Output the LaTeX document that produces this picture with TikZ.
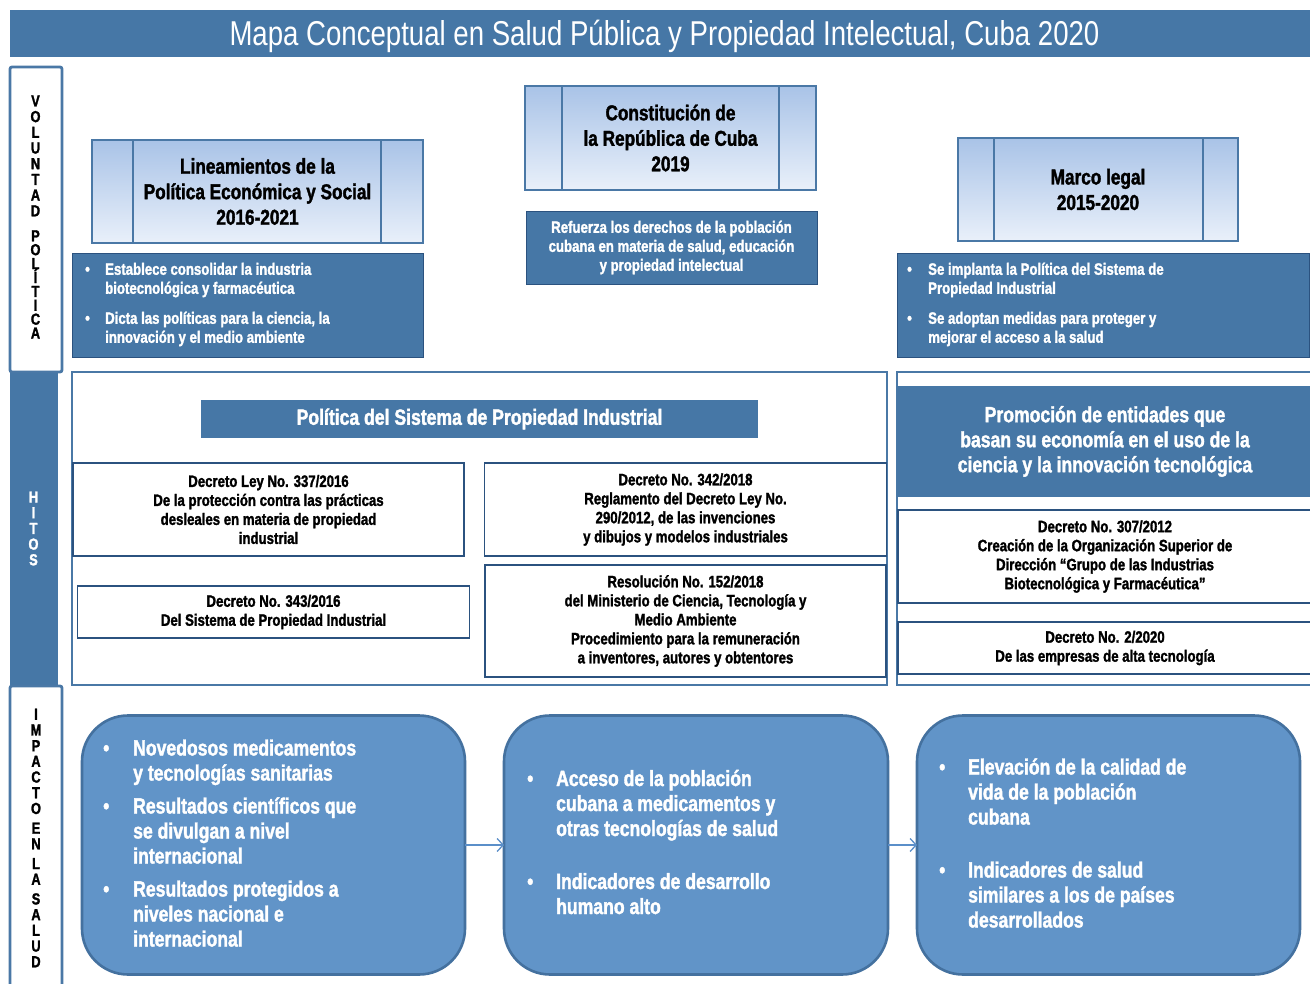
\documentclass[tikz,border=0pt]{standalone}
\usepackage{fontspec}
\setmainfont[FakeStretch=0.8]{Liberation Sans}
\newfontfamily\bsans[FakeStretch=0.8,FakeBold=1.6]{Liberation Sans Bold}
\usetikzlibrary{arrows.meta}
\definecolor{band}{HTML}{4677A6}
\definecolor{frame}{HTML}{4A78A6}
\definecolor{dark}{HTML}{2B527F}
\definecolor{lightA}{HTML}{A9C3E7}
\definecolor{lightB}{HTML}{E9F0FA}
\definecolor{impf}{HTML}{6194C8}
\definecolor{impd}{HTML}{44719F}
\definecolor{arr}{HTML}{5B8FC9}
\newcommand{\fs}[2]{\fontsize{#1}{#2}\selectfont}
\begin{document}
\begin{tikzpicture}[x=1pt,y=-1pt,
 box/.style={rectangle, inner sep=0pt, outer sep=0pt},
 hdr/.style={box, draw=frame, line width=2.6pt, top color=lightA, bottom color=lightB, font={\bsans\fs{21.5}{25.5}}, align=center},
 bluebox/.style={box, fill=band, draw=dark, line width=0.8pt, text=white, font={\bsans\fs{16.5}{19}}, align=center},
 btext/.style={inner sep=0pt, text=white, font={\bsans\fs{16.5}{19}}},
 decbox/.style={box, draw=dark, line width=1.1pt, fill=white, font={\bsans\fs{16.5}{19}}, align=center},
 bigframe/.style={box, draw=frame, line width=2.6pt},
 impbox/.style={box, rounded corners=46pt, fill=impf, draw=impd, line width=2.6pt},
 itext/.style={inner sep=0pt, text=white, font={\bsans\fs{22}{25}}},
 vlet/.style={inner sep=0pt, align=center, font={\bsans\fs{16}{15.7}\lineskiplimit=-20pt}},
 link/.style={draw=arr, line width=1.3pt, -{Straight Barb[length=6pt,width=13pt,line width=1.3pt]}}
]
\useasboundingbox (0,0) rectangle (1310,984);
\fill[white] (0,0) rectangle (1310,984);

% title
\node[box, fill=band, minimum width=1300pt, minimum height=47pt] (title) at (660,33.5) {};
\node[inner sep=0pt, text=white, font={\fs{34.5}{40}}] (titletext) at (664.5,36.5) {Mapa Conceptual en Salud Pública y Propiedad Intelectual, Cuba 2020};

% left column
\node[box, draw=frame, fill=white, line width=2.8pt, rounded corners=2pt, minimum width=52pt, minimum height=305pt] (colvol) at (36,219.5) {};
\node[box, fill=band, minimum width=48pt, minimum height=312pt] (colhit) at (34,529) {};
\node[box, draw=frame, fill=white, line width=2.8pt, rounded corners=2pt, minimum width=52pt, minimum height=320pt] (colimp) at (36,846) {};
\node[vlet] (lvol) at (35.5,217) {V\\O\\L\\U\\N\\T\\A\\D\\[9.3pt]P\\[-1.8pt]O\\[-1.8pt]L\\[-1.8pt]Í\\[-1.8pt]T\\[-1.8pt]I\\[-1.8pt]C\\[-1.8pt]A};
\node[vlet, text=white] (lhit) at (33.5,528.5) {H\\I\\T\\O\\S};
\node[vlet] (limp) at (36,838) {I\\M\\P\\A\\C\\T\\O\\[4pt]E\\N\\[4pt]L\\A\\[4pt]S\\A\\L\\U\\D};

% Voluntad politica row
\node[hdr, minimum width=331pt, minimum height=103pt] (lin) at (257.5,191.5) {Lineamientos de la\\Política Económica y Social\\2016-2021};
\draw[frame, line width=2.6pt] ([xshift=41pt]lin.north west) -- ([xshift=41pt]lin.south west);
\draw[frame, line width=2.6pt] ([xshift=-42pt]lin.north east) -- ([xshift=-42pt]lin.south east);
\node[bluebox, minimum width=351pt, minimum height=104pt] (linb) at (247.5,305) {};
\node[btext, anchor=west] (linbt) at (85,305) {\begin{tabular}{@{}p{20pt}@{}l@{}}
\textbullet & Establece consolidar la industria\\
 & biotecnológica y farmacéutica\\[11pt]
\textbullet & Dicta las políticas para la ciencia, la\\
 & innovación y el medio ambiente
\end{tabular}};

\node[hdr, minimum width=291pt, minimum height=104pt] (con) at (670.5,138) {Constitución de\\la República de Cuba\\2019};
\draw[frame, line width=2.6pt] ([xshift=37pt]con.north west) -- ([xshift=37pt]con.south west);
\draw[frame, line width=2.6pt] ([xshift=-37pt]con.north east) -- ([xshift=-37pt]con.south east);
\node[bluebox, minimum width=291pt, minimum height=73pt] (conb) at (671.5,247.5) {Refuerza los derechos de la población\\cubana en materia de salud, educación\\y propiedad intelectual};

\node[hdr, minimum width=280pt, minimum height=103pt] (mar) at (1098,189.5) {Marco legal\\2015-2020};
\draw[frame, line width=2.6pt] ([xshift=36pt]mar.north west) -- ([xshift=36pt]mar.south west);
\draw[frame, line width=2.6pt] ([xshift=-35pt]mar.north east) -- ([xshift=-35pt]mar.south east);
\node[bluebox, minimum width=412pt, minimum height=104pt] (marb) at (1103,305) {};
\node[btext, anchor=west] (marbt) at (907,305) {\begin{tabular}{@{}p{21pt}@{}l@{}}
\textbullet & Se implanta la Política del Sistema de\\
 & Propiedad Industrial\\[11pt]
\textbullet & Se adoptan medidas para proteger y\\
 & mejorar el acceso a la salud
\end{tabular}};

% Hitos
\node[bigframe, minimum width=815pt, minimum height=313pt] (hitl) at (479.5,528.5) {};
\node[bigframe, minimum width=433pt, minimum height=313pt, anchor=north west] (hitr) at (897,372) {};
\node[box, fill=band, minimum width=557pt, minimum height=38pt, text=white, font={\bsans\fs{22}{25}}] (pol) at (479.5,419) {Política del Sistema de Propiedad Industrial};
\node[decbox, minimum width=391pt, minimum height=93pt] (d337) at (268.5,509.5) {Decreto Ley No. 337/2016\\De la protección contra las prácticas\\desleales en materia de propiedad\\industrial};
\node[decbox, minimum width=392pt, minimum height=52pt] (d343) at (273.5,612) {Decreto No. 343/2016\\Del Sistema de Propiedad Industrial};
\node[decbox, minimum width=402pt, minimum height=93pt] (d342) at (685.5,509.5) {Decreto No. 342/2018\\Reglamento del Decreto Ley No.\\290/2012, de las invenciones\\y dibujos y modelos industriales};
\node[decbox, minimum width=401pt, minimum height=112pt] (r152) at (685.5,621) {Resolución No. 152/2018\\del Ministerio de Ciencia, Tecnología y\\Medio Ambiente\\Procedimiento para la remuneración\\a inventores, autores y obtentores};
\node[box, fill=band, minimum width=416pt, minimum height=111pt, text=white, align=center, font={\bsans\fs{22}{25}}] (prom) at (1105,441.5) {Promoción de entidades que\\basan su economía en el uso de la\\ciencia y la innovación tecnológica};
\node[decbox, minimum width=414pt, minimum height=93pt] (d307) at (1105,556.5) {Decreto No. 307/2012\\Creación de la Organización Superior de\\Dirección “Grupo de las Industrias\\Biotecnológica y Farmacéutica”};
\node[decbox, minimum width=414pt, minimum height=52pt] (d2) at (1105,648) {Decreto No. 2/2020\\De las empresas de alta tecnología};

% Impacto
\node[impbox, minimum width=383pt, minimum height=259pt] (imp1) at (273.5,845) {};
\node[itext, anchor=west] (imp1t) at (103,846) {\begin{tabular}{@{}p{30pt}@{}l@{}}
\textbullet & Novedosos medicamentos\\
 & y tecnologías sanitarias\\[8pt]
\textbullet & Resultados científicos que\\
 & se divulgan a nivel\\
 & internacional\\[8pt]
\textbullet & Resultados protegidos a\\
 & niveles nacional e\\
 & internacional
\end{tabular}};
\node[impbox, minimum width=384pt, minimum height=259pt] (imp2) at (696,845) {};
\node[itext, anchor=west] (imp2t) at (527,845) {\begin{tabular}{@{}p{29pt}@{}l@{}}
\textbullet & Acceso de la población\\
 & cubana a medicamentos y\\
 & otras tecnologías de salud\\[28pt]
\textbullet & Indicadores de desarrollo\\
 & humano alto
\end{tabular}};
\node[impbox, minimum width=383pt, minimum height=259pt] (imp3) at (1108.5,845) {};
\node[itext, anchor=west] (imp3t) at (939,846) {\begin{tabular}{@{}p{29pt}@{}l@{}}
\textbullet & Elevación de la calidad de\\
 & vida de la población\\
 & cubana\\[28pt]
\textbullet & Indicadores de salud\\
 & similares a los de países\\
 & desarrollados
\end{tabular}};
\draw[link] (imp1.east) -- (imp2.west);
\draw[link] (imp2.east) -- (imp3.west);
\end{tikzpicture}
\end{document}
